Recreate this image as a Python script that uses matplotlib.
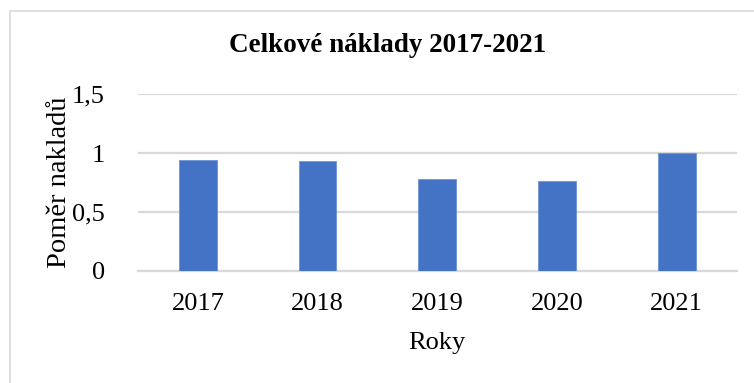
import matplotlib
matplotlib.use("Agg")
import matplotlib.pyplot as plt
import matplotlib.patches as mpatches

# data
years = ['2017', '2018', '2019', '2020', '2021']
ratio = [0.94, 0.93, 0.78, 0.765, 1.0]
yticks = [0, 0.5, 1, 1.5]
ytick_labels = ['0', '0,5', '1', '1,5']

plt.rcParams['font.family'] = ['Liberation Serif', 'DejaVu Serif']

fig = plt.figure(figsize=(7.54, 3.83), dpi=100)
ax = fig.add_axes([0.183, 0.293, 0.794, 0.461])

ax.bar(years, ratio, width=0.315, color='#4472C4', edgecolor='#6F93D6',
       linewidth=0.6, zorder=3)

ax.set_xlim(-0.5, len(years) - 0.5)
ax.set_ylim(0, 1.5)
ax.set_yticks(yticks)
ax.set_yticklabels(ytick_labels)
ax.yaxis.grid(True, color='#D9D9D9', linewidth=1.6, zorder=0)
ax.tick_params(axis='both', length=0, labelsize=19)
ax.tick_params(axis='y', pad=24)
ax.tick_params(axis='x', pad=16)
for s in ['top', 'right', 'left']:
    ax.spines[s].set_visible(False)
ax.spines['bottom'].set_color('#D9D9D9')
ax.spines['bottom'].set_linewidth(1.6)

ax.set_xlabel('Roky', fontsize=19, labelpad=12)
ax.set_ylabel('Poměr nakladů', fontsize=20.5)
ax.yaxis.set_label_coords(-0.11, 0.5)

fig.text(0.514, 0.882, 'Celkové náklady 2017-2021', fontsize=19.5,
         fontweight='bold', ha='center', va='center')

# outer chart border
fig.patches.append(mpatches.Rectangle((10 / 754, -0.1), 1.2, 1.1 - 11 / 383,
                                      transform=fig.transFigure, fill=False,
                                      edgecolor='#D9D9D9', linewidth=1.2))

fig.savefig('out.png', dpi=100)
